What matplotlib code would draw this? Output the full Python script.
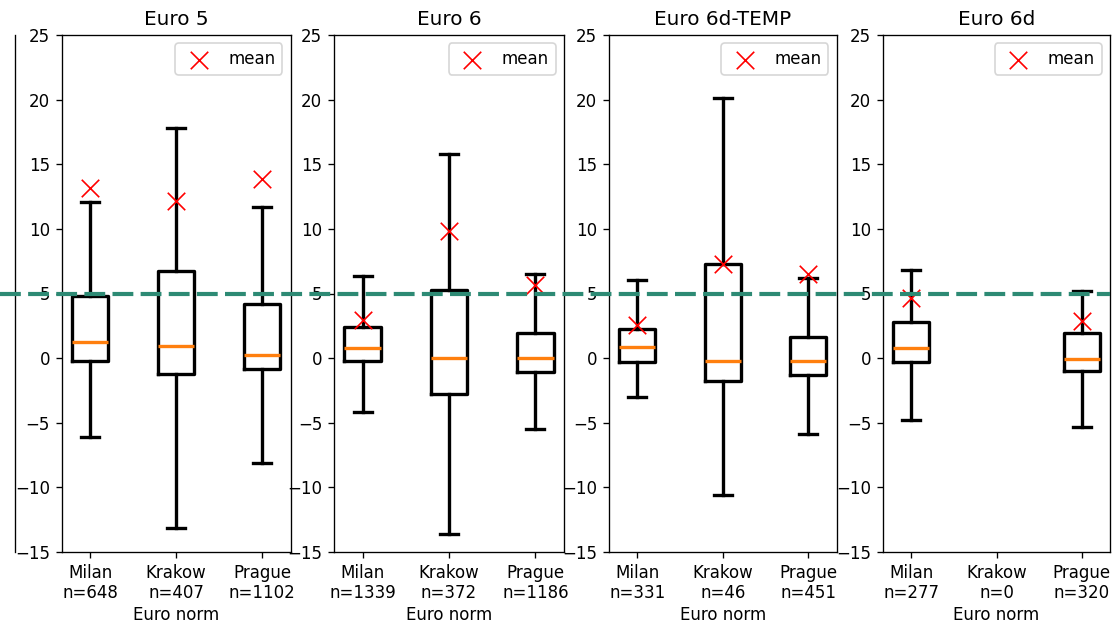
import matplotlib.pyplot as plt
from matplotlib.lines import Line2D
from matplotlib.transforms import blended_transform_factory

norms = ["Euro 5", "Euro 6", "Euro 6d-TEMP", "Euro 6d"]
cities = ["Milan", "Krakow", "Prague"]
n_obs = [[648, 407, 1102], [1339, 372, 1186], [331, 46, 451], [277, 0, 320]]

# box statistics per norm (rows) and city (columns), None = no data
whis_hi = [[12.1, 17.8, 11.7], [6.35, 15.8, 6.5], [6.05, 20.15, 6.2], [6.8, None, 5.2]]
q3 = [[4.83, 6.74, 4.19], [2.4, 5.3, 1.95], [2.25, 7.3, 1.65], [2.8, None, 1.95]]
med = [[1.27, 0.9, 0.25], [0.75, 0.0, 0.0], [0.85, -0.2, -0.2], [0.75, None, -0.05]]
q1 = [[-0.22, -1.25, -0.87], [-0.22, -2.78, -1.1], [-0.3, -1.8, -1.3], [-0.3, None, -1.0]]
whis_lo = [[-6.08, -13.15, -8.1], [-4.17, -13.6, -5.5], [-3.0, -10.6, -5.87], [-4.8, None, -5.33]]
means = [[13.15, 12.15, 13.85], [2.95, 9.85, 5.65], [2.55, 7.3, 6.5], [4.65, None, 2.85]]

limit = 5

DPI = 120
fig = plt.figure(figsize=(1115 / DPI, 626 / DPI), dpi=DPI)

# axes placement in pixels (left, right), top and bottom shared
px_lr = [(61.7, 290.7), (334, 564), (609, 836.7), (883, 1110)]
top, bottom = 35, 552
W, H = 1115, 626

# leftover of a neighbouring panel, only its right edge is visible
ghost = fig.add_axes([(15 - 229) / W, 1 - bottom / H, 229 / W, (bottom - top) / H])
ghost.set_xticks([])
ghost.set_yticks([])
for s in ["left", "top", "bottom"]:
    ghost.spines[s].set_visible(False)

axes = []
for i, norm in enumerate(norms):
    l, r = px_lr[i]
    ax = fig.add_axes([l / W, 1 - bottom / H, (r - l) / W, (bottom - top) / H])
    axes.append(ax)

    stats, pos, mpos, mvals = [], [], [], []
    for j in range(len(cities)):
        if med[i][j] is None:
            continue
        stats.append(dict(med=med[i][j], q1=q1[i][j], q3=q3[i][j],
                          whislo=whis_lo[i][j], whishi=whis_hi[i][j], fliers=[]))
        pos.append(j + 1)
        mpos.append(j + 1)
        mvals.append(means[i][j])

    ax.bxp(stats, positions=pos, widths=0.42, showfliers=False, manage_ticks=False,
           boxprops=dict(color="black", linewidth=2),
           whiskerprops=dict(color="black", linewidth=2),
           capprops=dict(color="black", linewidth=2),
           medianprops=dict(color="#ff7f0e", linewidth=2))
    ax.scatter(mpos, mvals, marker="x", color="red", s=110, linewidths=1.0,
               label="mean", zorder=3)

    ax.set_ylim(-15, 25)
    ax.set_yticks(range(-15, 30, 5))
    ax.set_xticks([1, 2, 3],
                  labels=[f"{c}\nn={k}" for c, k in zip(cities, n_obs[i])])
    ax.set_xlabel("Euro norm", labelpad=2)
    ax.set_title(norm, fontsize=12)
    ax.legend(loc="upper right")

# threshold line across the whole figure
tr = blended_transform_factory(fig.transFigure, axes[0].transData)
fig.add_artist(Line2D([0, 1110 / W], [limit, limit], transform=tr,
                      color="#2d8a74", linewidth=2.5, dashes=(5, 1.75)))

fig.savefig("out.png", dpi=DPI)
